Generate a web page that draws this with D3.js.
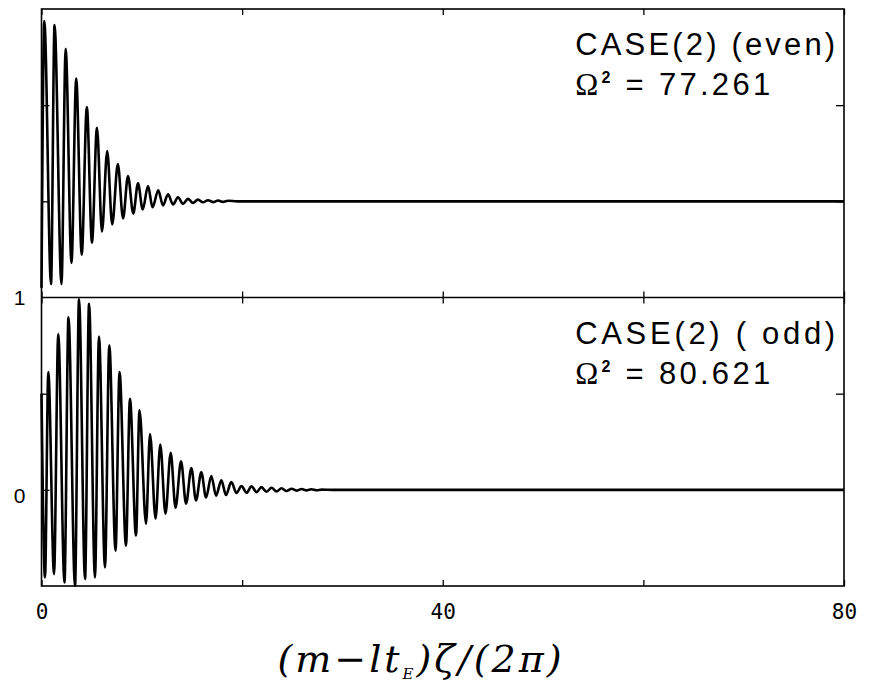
<!DOCTYPE html>
<html>
<head>
<meta charset="utf-8">
<script src="https://cdn.jsdelivr.net/npm/d3@7"></script>
<style>
    body { margin: 0; background: #fff; }
</style>
</head>
<body>
<div id="wrapper"></div>
<script>
// extrema, x in (m - l t_E) zeta / (2 pi)
const evenX = [0, 0.28, 0.95, 1.3, 1.99, 2.41, 2.99, 3.46, 4.01, 4.52, 5.03, 5.53, 6.03, 6.55, 7.05,
               7.61, 8.13, 8.62, 9.15, 9.62, 10.09, 10.62, 11.07, 11.64, 12.11, 12.61, 13.11, 13.61,
               14.11, 14.61, 15.1, 15.6, 16.1, 16.6, 17.1, 17.6, 18.1, 18.6, 19.5, 80];
const evenY = [-0.45, 0.937, -0.43, 0.916, -0.43, 0.793, -0.32, 0.639, -0.277, 0.49, -0.215, 0.382,
               -0.157, 0.262, -0.12, 0.194, -0.089, 0.131, -0.063, 0.094, -0.042, 0.079, -0.031,
               0.058, -0.021, 0.037, -0.016, 0.021, -0.013, 0.013, -0.008, 0.009, -0.005, 0.006,
               -0.004, 0.004, -0.003, 0.003, 0, 0];

const oddX = [0, 0.35, 0.68, 1.25, 1.67, 2.29, 2.69, 3.34, 3.74, 4.34, 4.74, 5.33, 5.73, 6.33, 6.76,
              7.38, 7.78, 8.42, 8.82, 9.42, 9.77, 10.42, 10.82, 11.37, 11.84, 12.36, 12.88, 13.36,
              13.91, 14.41, 14.94, 15.4, 15.93, 16.4, 16.93, 17.4, 17.93, 18.39, 18.92, 19.44, 19.94,
              20.44, 20.94, 21.44, 21.93, 22.43, 22.93, 23.43, 23.93, 24.43, 24.93, 25.42, 25.92,
              26.42, 26.92, 27.42, 27.92, 29, 80];
const oddY = [0.5, -0.455, 0.613, -0.438, 0.81, -0.482, 0.897, -0.499, 0.99, -0.464, 0.967, -0.455,
              0.797, -0.403, 0.752, -0.316, 0.613, -0.29, 0.473, -0.237, 0.414, -0.176, 0.29, -0.15,
              0.235, -0.124, 0.193, -0.093, 0.148, -0.072, 0.113, -0.055, 0.091, -0.04, 0.072, -0.03,
              0.05, -0.027, 0.04, -0.016, 0.02, -0.015, 0.018, -0.012, 0.014, -0.01, 0.011, -0.008,
              0.008, -0.006, 0.006, -0.004, 0.004, -0.003, 0.003, -0.002, 0.001, 0, 0];

const xTicks = [0, 20, 40, 60, 80];
const xTickLabels = [0, 40, 80];
const yTicks = [0, 0.5];
const yTickLabels = [0, 1];

const panels = [
    { xs: evenX, ys: evenY, caseLabel: "CASE(2) (even)", omega: "77.261" },
    { xs: oddX, ys: oddY, caseLabel: "CASE(2) ( odd)", omega: "80.621" }
];

function drawChart() {

    const dms = {
        width: 871,
        height: 683,
        margins: { top: 9, left: 41.5, right: 27, bottom: 97 }
    };
    dms.innerWidth = dms.width - dms.margins.left - dms.margins.right;
    dms.innerHeight = dms.height - dms.margins.top - dms.margins.bottom;
    const panelHeight = dms.innerHeight / 2;

    const wrapper = d3.select("#wrapper")
                        .append("svg")
                            .attr("width", dms.width)
                            .attr("height", dms.height);

    const inner = wrapper.append("g")
                    .attr("transform", `translate(${dms.margins.left},${dms.margins.top})`);

    const xScale = d3.scaleLinear()
                    .domain([0, 80])
                    .range([0, dms.innerWidth]);

    const yScales = panels.map((p, i) => d3.scaleLinear()
                    .domain([-0.5, 1])
                    .range([panelHeight * (i + 1), panelHeight * i]));

    panels.forEach((p, i) => {
        const yScale = yScales[i];
        const pts = p.xs.map((x, j) => [x, p.ys[j]]);

        const line = d3.line()
                        .x(d => xScale(d[0]))
                        .y(d => yScale(d[1]))
                        .curve(d3.curveMonotoneX);

        inner.append("path")
                .datum(pts)
                .attr("d", line)
                .attr("fill", "none")
                .attr("stroke", "#000")
                .attr("stroke-width", 2.6)
                .attr("stroke-linejoin", "round");

        // inward ticks on all four edges
        const top = panelHeight * i;
        const bottom = panelHeight * (i + 1);
        const tickAxes = [
            [d3.axisTop(xScale).tickValues(xTicks).tickSize(-6), `translate(0,${top})`],
            [d3.axisBottom(xScale).tickValues(xTicks).tickSize(-6), `translate(0,${bottom})`],
            [d3.axisLeft(yScale).tickValues(yTicks).tickSize(-8), null],
            [d3.axisRight(yScale).tickValues(yTicks).tickSize(-8), `translate(${dms.innerWidth},0)`]
        ];
        tickAxes.forEach(([gen, tr]) => {
            const g = inner.append("g")
                        .call(gen.tickFormat(""))
                        .attr("transform", tr);
            g.select(".domain").remove();
            g.selectAll("line").attr("stroke", "#000").attr("stroke-width", 1.3);
        });

        // annotations
        const labelX = xScale(53.2);
        inner.append("text")
                .attr("x", labelX)
                .attr("y", top + 46)
                .attr("textLength", 260)
                .attr("lengthAdjust", "spacing")
                .style("font-family", "'Liberation Sans', sans-serif")
                .style("font-size", "31px")
                .text(p.caseLabel);

        const omega = inner.append("text")
                .attr("x", labelX)
                .attr("y", top + 86)
                .attr("textLength", 195)
                .attr("lengthAdjust", "spacing")
                .style("font-family", "'Liberation Sans', sans-serif")
                .style("font-size", "31px");
        omega.append("tspan").style("font-family", "'Liberation Serif', serif").text("Ω");
        omega.append("tspan").attr("dy", -12).style("font-size", "16px").style("font-weight", "bold").text("2");
        omega.append("tspan").attr("dy", 12).text(" = " + p.omega);
    });

    // frame
    inner.append("rect")
            .attr("width", dms.innerWidth)
            .attr("height", dms.innerHeight)
            .attr("fill", "none")
            .attr("stroke", "#000")
            .attr("stroke-width", 1.6);

    inner.append("line")
            .attr("x1", 0)
            .attr("x2", dms.innerWidth)
            .attr("y1", panelHeight)
            .attr("y2", panelHeight)
            .attr("stroke", "#000")
            .attr("stroke-width", 1.6);

    // tick labels
    const xAxis = inner.append("g")
                    .attr("transform", `translate(0,${dms.innerHeight})`)
                    .call(d3.axisBottom(xScale).tickValues(xTickLabels).tickSize(0).tickPadding(18).tickFormat(d3.format("d")));
    xAxis.select(".domain").remove();
    xAxis.selectAll("text")
            .attr("fill", "#000")
            .style("font-family", "'DejaVu Sans Mono', monospace")
            .style("font-size", "21px");

    const yAxis = inner.append("g")
                    .call(d3.axisLeft(yScales[1]).tickValues(yTickLabels).tickSize(0).tickPadding(16).tickFormat(d3.format("d")));
    yAxis.select(".domain").remove();
    yAxis.selectAll("text")
            .attr("fill", "#000")
            .attr("dy", d => d === 0 ? "0.62em" : "0.32em")
            .style("font-family", "'Liberation Sans', sans-serif")
            .style("font-size", "21px");

    // axis title
    const title = wrapper.append("text")
                    .attr("x", 421)
                    .attr("y", 672)
                    .attr("text-anchor", "middle")
                    .style("font-family", "'DejaVu Serif', serif")
                    .style("font-style", "italic")
                    .style("font-size", "38px")
                    .style("letter-spacing", "3px");
    title.append("tspan").text("(m−lt");
    title.append("tspan").attr("dy", 7).style("font-size", "15px").text("E");
    title.append("tspan").attr("dy", -7).text(")ζ/(2π)");
}

drawChart();
</script>
</body>
</html>
